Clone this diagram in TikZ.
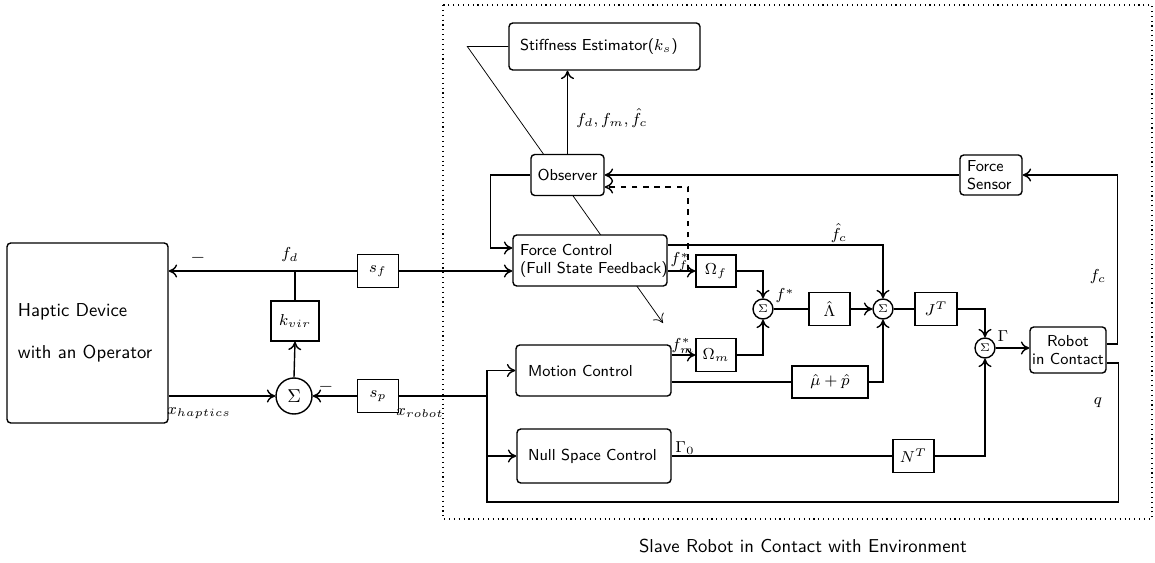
\RequirePackage{fix-cm}
\documentclass[tikz,border=0pt]{standalone}
\usepackage{fontspec}
\renewcommand{\familydefault}{\sfdefault}
\usetikzlibrary{calc,arrows.meta}
\pgfdeclarelayer{bg}
\pgfsetlayers{bg,main}
\newcommand{\unitpx}{0.535pt}
\newcommand{\nodefont}{\fontsize{8.5}{9.5}\selectfont}

\begin{document}
\begin{tikzpicture}[x=0.535pt, y=-0.535pt, line width=0.75pt, >={To[length=4.5pt,width=7pt]},
  every node/.style={font=\nodefont},
  lbox/.style={draw, fill=white, rounded corners=2pt, align=left, inner xsep=11*\unitpx, inner ysep=0pt},
  cbox/.style={draw, fill=white, rounded corners=2pt, align=center, inner sep=0pt},
  blk/.style={draw, fill=white, inner sep=0pt, minimum width=41*\unitpx, minimum height=33*\unitpx},
  ssum/.style={draw, fill=white, circle, inner sep=0pt, minimum size=20*\unitpx, font=\fontsize{6}{7}\selectfont},
  lbl/.style={inner sep=0pt}]
\useasboundingbox (0,0) rectangle (1155,563);

% ---------- master side ----------
\node[lbox, font=\normalsize, text width=139*\unitpx, minimum height=180*\unitpx] (haptic) at (87.5,333)
  {Haptic Device\\[10.4pt]with an Operator};
\node[blk] (sf) at (378,271) {$s_f$};
\node[blk, minimum width=48*\unitpx, minimum height=40*\unitpx] (kvir) at (295,321) {$k_{vir}$};
\node[draw, circle, inner sep=0pt, minimum size=36*\unitpx, font=\normalsize] (sum) at (294,396) {$\Sigma$};
\node[blk] (sp) at (378,396) {$s_p$};

% ---------- slave side ----------
\draw[dotted, line width=0.6pt] (443,5) rectangle (1152,519);
\node[font=\normalsize] (caption) at (803,546) {Slave Robot in Contact with Environment};

\node[lbox, text width=169*\unitpx, minimum height=47*\unitpx] (st) at (604.5,46.5) {Stiffness Estimator($k_s$)};
\node[cbox, minimum width=73*\unitpx, minimum height=41*\unitpx] (obs) at (567.5,175) {Observer};
\node[lbox, inner xsep=7*\unitpx, text width=48*\unitpx, minimum height=40*\unitpx] (fs) at (991,175) {Force\\Sensor};
\node[lbox, inner xsep=7*\unitpx, text width=140*\unitpx, minimum height=51*\unitpx] (fc) at (590,260.5)
  {\mbox{Force Control}\\\mbox{(Full State Feedback)}};
\node[lbox, inner xsep=12*\unitpx, text width=131*\unitpx, minimum height=51*\unitpx] (mc) at (593.5,370.5) {Motion Control};
\node[lbox, text width=132*\unitpx, minimum height=54*\unitpx] (ns) at (594,456) {\mbox{Null Space Control}};

\node[blk, minimum width=40*\unitpx, minimum height=32*\unitpx] (of) at (716,271) {$\Omega_f$};
\node[blk, minimum width=40*\unitpx] (om) at (716,355) {$\Omega_m$};
\node[ssum] (sum1) at (763,309) {$\Sigma$};
\node[blk] (lam) at (829.5,309) {$\hat{\Lambda}$};
\node[ssum] (sum2) at (883,309) {$\Sigma$};
\node[blk, minimum width=76*\unitpx, minimum height=32*\unitpx] (mup) at (830,382) {$\hat{\mu}+\hat{p}$};
\node[blk, minimum width=42*\unitpx] (jt) at (936,309) {$J^T$};
\node[ssum] (sum3) at (985,348) {$\Sigma$};
\node[cbox, minimum width=76*\unitpx, minimum height=46*\unitpx] (robot) at (1068,350) {Robot\\in Contact};
\node[blk] (nt) at (913.5,456) {$N^T$};

% ---------- free ends ----------
\coordinate (bl) at (487,502);
\coordinate (dsh) at (688,271);
\coordinate (adj) at (663,323);

% ---------- master connectors ----------
\draw[->] (sf.west) -- (sf.west -| haptic.east);
\draw (kvir.north) -- (kvir.north |- sf.west);
\draw[->] (sum.north) -- (kvir.south);
\draw[->] (haptic.east |- sum.west) -- (sum.west);
\draw[->] (sp.west) -- (sum.east);
\draw[->] (sf.east) -- (sf.east -| fc.west);
\draw (sp.east) -- (sp.east -| bl);

\node[lbl] (lfd) at (290,255) {$f_d$};
\node[lbl, font=\normalsize] (lm1) at (198,258) {$-$};
\node[lbl, font=\normalsize] (lm2) at (326,387) {$-$};
\node[lbl] (lxh) at (199,413) {$x_{haptics}$};
\node[lbl] (lxr) at (420,413) {$x_{robot}$};

% ---------- slave connectors ----------
\draw[->] (obs.west) -| ($(fc.west)+(-22,-12.5)$) -- ($(fc.west)+(0,-12.5)$);
\draw[->] ($(fc.east)+(0,-15.5)$) -| (sum2.north);
\draw[->] ($(fc.east)+(0,10.5)$) -- (of.west);
\draw[->] (of.east) -| (sum1.north);
\draw (sum1.east) -- (lam.west);
\draw[->] (lam.east) -- (sum2.west);
\draw (sum2.east) -- (jt.west);
\draw[->] (jt.east) -| (sum3.north);
\draw[->] (sum3.east) -- (sum3.east -| robot.west);
\draw[->] ($(mc.east)+(0,-15.5)$) -- (om.west);
\draw[->] (om.east) -| (sum1.south);
\draw ($(mc.east)+(0,11.5)$) -- (mup.west);
\draw[->] (mup.east) -| (sum2.south);
\draw (ns.east) -- (nt.west);
\draw[->] (nt.east) -| (sum3.south);
\draw[->] ($(robot.east)+(0,-6)$) -- ++(11,0) |- (fs.east);
\draw[->] ($(robot.east)+(0,13)$) -- ++(12,0) |- (bl) |- (mc.west);
\draw[->] (bl |- ns.west) -- (ns.west);
\draw[->] (fs.west) -- (obs.east);
\draw[->, dashed] (dsh) |- ($(obs.east)+(0,12)$);
\draw[->] (obs.north) -- (obs.north |- st.south);

% stiffness estimate feeding the gains, passing behind the boxes
\begin{pgfonlayer}{bg}
\draw[->] (st.west) -- ++(-41,0) -- (adj);
\end{pgfonlayer}

\node[lbl, anchor=west] (lobs) at (576,118) {$f_d, f_m, \hat{f}_c$};
\node[lbl] (lfc) at (839,233) {$\hat{f}_c$};
\node[lbl] (lff) at (680,262) {$f_f^*$};
\node[lbl] (lfm) at (683,346) {$f_m^*$};
\node[lbl] (lfs) at (785,296) {$f^*$};
\node[lbl] (lG) at (1003,336) {$\Gamma$};
\node[lbl] (lG0) at (685,448) {$\Gamma_0$};
\node[lbl] (lfcs) at (1098,277) {$f_c$};
\node[lbl] (lq) at (1098,403) {$q$};
\end{tikzpicture}
\end{document}
